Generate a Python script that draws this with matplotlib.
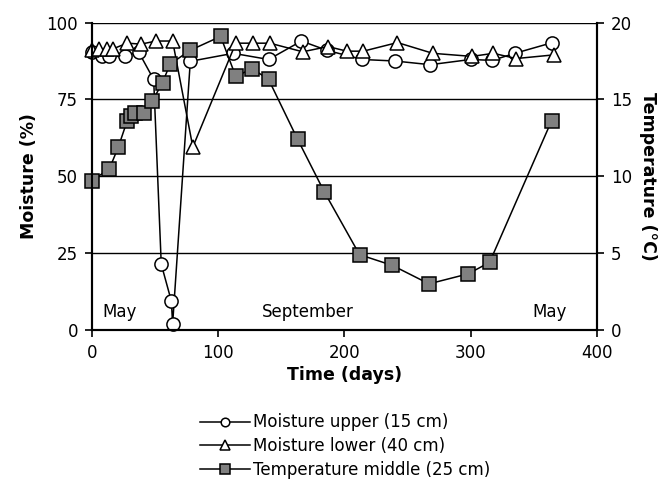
import matplotlib
matplotlib.use("Agg")
import matplotlib.pyplot as plt

# moisture upper (15 cm)
upper_days = [0, 8, 14, 26, 37, 49, 55, 63, 64, 78, 112, 140, 166, 186, 214, 240, 268, 300, 317, 335, 364]
upper_vals = [90.5, 89, 89, 89, 90.5, 81.5, 21.4, 9.4, 1.9, 87.4, 90, 88, 94, 91, 88, 87.5, 86.3, 88, 87.7, 90, 93.4]

# moisture lower (40 cm)
lower_days = [0, 6, 12, 17, 28, 39, 51, 64, 80, 114, 128, 141, 167, 187, 202, 215, 242, 270, 301, 318, 336, 366]
lower_vals = [91, 91.5, 91.5, 91.5, 93.3, 93, 94, 94, 59.5, 93.3, 93.3, 93.3, 90.5, 92.2, 90.7, 90.7, 93.5, 90, 89, 90, 88.3, 89.5]

# temperature middle (25 cm)
temp_days = [0, 14, 21, 28, 31, 34, 41, 48, 56, 62, 78, 102, 114, 127, 140, 163, 184, 212, 238, 267, 298, 315, 364]
temp_vals = [9.7, 10.5, 11.9, 13.6, 13.9, 14.1, 14.1, 14.9, 16.1, 17.3, 18.2, 19.1, 16.5, 17.0, 16.3, 12.4, 9.0, 4.9, 4.2, 3.0, 3.65, 4.4, 13.6]

plt.rcParams["font.family"] = ["DejaVu Sans"]
plt.rcParams["font.size"] = 11

fig = plt.figure(figsize=(6.7, 4.91), dpi=100)
ax = fig.add_axes([0.137, 0.328, 0.754, 0.626])
ax2 = ax.twinx()

for y in [25, 50, 75, 100]:
    ax.axhline(y, color="black", lw=1.0, zorder=0)

l1, = ax.plot(upper_days, upper_vals, color="black", lw=1.1, marker="o", ms=9.5,
              mfc="white", mec="black", mew=1.1, clip_on=False, label="Moisture upper (15 cm)")
l2, = ax.plot(lower_days, lower_vals, color="black", lw=1.1, marker="^", ms=10.5,
              mfc="white", mec="black", mew=1.1, clip_on=False, label="Moisture lower (40 cm)")
l3, = ax2.plot(temp_days, temp_vals, color="black", lw=1.1, marker="s", ms=10,
               mfc="#808080", mec="black", mew=1.1, clip_on=False, label="Temperature middle (25 cm)")

ax.set_xlim(0, 400)
ax.set_ylim(0, 100)
ax2.set_ylim(0, 20)
ax.set_xticks([0, 100, 200, 300, 400])
ax.set_yticks([0, 25, 50, 75, 100])
ax2.set_yticks([0, 5, 10, 15, 20])

for a in (ax, ax2):
    a.spines["top"].set_visible(False)
    for s in a.spines.values():
        s.set_linewidth(1.5)
    a.tick_params(direction="out", length=5, width=1.2, labelsize=12, pad=5)

ax.set_xlabel("Time (days)", fontweight="bold", fontsize=12.5, labelpad=3)
ax.set_ylabel("Moisture (%)", fontweight="bold", fontsize=12.5, labelpad=6)
ax2.set_ylabel("Temperature (\u00b0C)", fontweight="bold", fontsize=12.5, rotation=270, labelpad=18)

ax.text(8, 6, "May", fontsize=12, va="center")
ax.text(135, 6, "September", fontsize=12, va="center")
ax.text(349, 6, "May", fontsize=12, va="center")

fig.legend(handles=[l1, l2, l3], loc="upper center", bbox_to_anchor=(0.515, 0.175),
           frameon=False, markerscale=0.65, fontsize=12, handlelength=3.0,
           handletextpad=0.2, labelspacing=0.35, borderpad=0)

fig.savefig("out.png", dpi=100)
